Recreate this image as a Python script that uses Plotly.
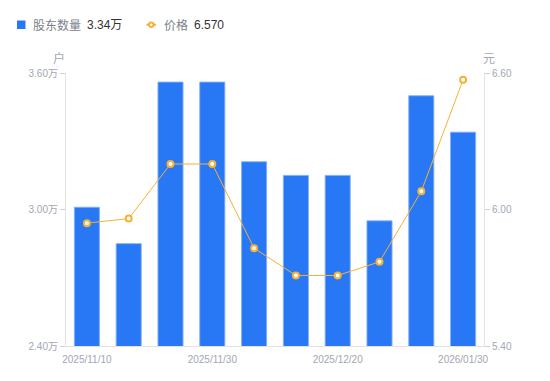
import plotly.graph_objects as go

dates = ["2025/11/10", "2025/11/14", "2025/11/20", "2025/11/30", "2025/12/10",
         "2025/12/15", "2025/12/20", "2025/12/31", "2026/01/20", "2026/01/30"]
holders = [3.01, 2.85, 3.56, 3.56, 3.21, 3.15, 3.15, 2.95, 3.50, 3.34]  # 万户
price = [5.94, 5.96, 6.20, 6.20, 5.83, 5.71, 5.71, 5.77, 6.08, 6.57]

left_ticks = [2.40, 3.00, 3.60]
left_ticktext = ["2.40万", "3.00万", "3.60万"]
right_ticks = [5.40, 6.00, 6.60]
right_ticktext = ["5.40", "6.00", "6.60"]
x_ticks = ["2025/11/10", "2025/11/30", "2025/12/20", "2026/01/30"]

FONT = "Liberation Sans, Noto Sans CJK SC, sans-serif"
CJK = "Noto Sans CJK SC, sans-serif"
GRAY = "#a3a6b4"
BLUE = "#2878f5"
ORANGE = "#f7b134"

# figure geometry (page body has an 8px margin)
W, H = 542, 373
L, R, T, B = 58, 66, 65, 35
PW, PH = W - L - R, H - T - B


def px(x):
    return (x - L) / PW


def py(y):
    return (H - B - y) / PH


fig = go.Figure()
fig.add_trace(go.Bar(
    x=dates, y=holders, name="股东数量",
    marker=dict(color=BLUE, line=dict(width=1, color="rgba(130,175,250,0.9)")),
    yaxis="y",
))
fig.add_trace(go.Scatter(
    x=dates, y=price, name="价格",
    mode="lines+markers", yaxis="y2",
    line=dict(color=ORANGE, width=1),
    marker=dict(color="white", size=6, line=dict(color=ORANGE, width=2)),
))

fig.update_layout(
    width=W, height=H,
    margin=dict(l=L, r=R, t=T, b=B),
    paper_bgcolor="white", plot_bgcolor="white",
    font=dict(family=FONT, size=11, color=GRAY),
    bargap=0.4,
    showlegend=False,
    xaxis=dict(type="category", tickmode="array", tickvals=x_ticks, ticktext=x_ticks,
               showgrid=False, showline=True, linecolor="#e3e3e3", linewidth=1,
               ticks="outside", ticklen=4, tickcolor="rgba(0,0,0,0)",
               tickfont=dict(size=10, color=GRAY), range=[-0.5, 9.5]),
    yaxis=dict(range=[2.40, 3.60], tickmode="array", tickvals=left_ticks,
               ticktext=left_ticktext, showgrid=False, zeroline=False,
               showline=True, linecolor="#e3e3e3", linewidth=1,
               ticks="outside", ticklen=5, tickcolor="#d0d0d0",
               tickfont=dict(size=10, color=GRAY)),
    yaxis2=dict(range=[5.40, 6.60], tickmode="array", tickvals=right_ticks,
                ticktext=right_ticktext, overlaying="y", side="right",
                showgrid=False, zeroline=False,
                showline=True, linecolor="#e3e3e3", linewidth=1,
                ticks="outside", ticklen=5, tickcolor="#d0d0d0",
                tickfont=dict(size=10, color=GRAY)),
)

ann = [
    dict(text="户", x=px(51), y=py(49), xanchor="center", yanchor="middle",
         font=dict(family=CJK, size=12, color=GRAY)),
    dict(text="元", x=px(481), y=py(49), xanchor="center", yanchor="middle",
         font=dict(family=CJK, size=12, color=GRAY)),
    dict(text="股东数量", x=px(23), y=py(16.7), xanchor="left", yanchor="middle",
         font=dict(family=CJK, size=12, color="#7b7f8c")),
    dict(text="3.34万", x=px(77), y=py(16.7), xanchor="left", yanchor="middle",
         font=dict(family=FONT, size=12, color="#333333")),
    dict(text="价格", x=px(153.7), y=py(16.7), xanchor="left", yanchor="middle",
         font=dict(family=CJK, size=12, color="#7b7f8c")),
    dict(text="6.570", x=px(183.7), y=py(16.7), xanchor="left", yanchor="middle",
         font=dict(family=FONT, size=12, color="#333333")),
]
for a in ann:
    a.update(xref="paper", yref="paper", showarrow=False)
fig.update_layout(annotations=ann)

fig.add_shape(type="rect", xref="paper", yref="paper",
              x0=px(9), x1=px(17.5), y0=py(12.5), y1=py(21),
              fillcolor=BLUE, line=dict(width=0))
fig.add_shape(type="line", xref="paper", yref="paper",
              x0=px(138.5), x1=px(148), y0=py(16.7), y1=py(16.7),
              line=dict(color=ORANGE, width=2))
fig.add_shape(type="circle", xref="paper", yref="paper",
              x0=px(141), x1=px(145.5), y0=py(14.5), y1=py(19),
              fillcolor="white", line=dict(color=ORANGE, width=2))

fig.write_html("out.html")
